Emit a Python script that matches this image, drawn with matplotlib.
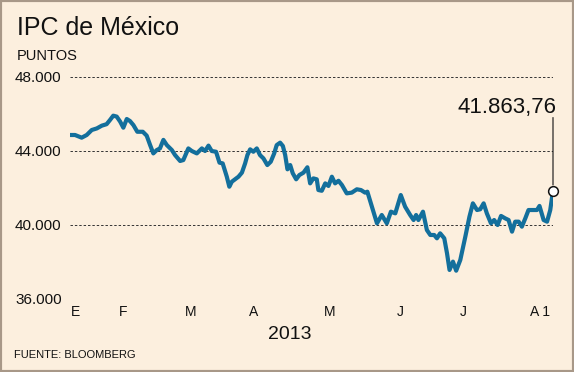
import matplotlib
matplotlib.use("Agg")
import matplotlib.pyplot as plt
from matplotlib.patches import Rectangle

plt.rcParams['font.family'] = ['Liberation Sans', 'DejaVu Sans']

# Day of year 2013 (Jan 1 = 1) and IPC index value
days = [2.0, 4.2, 7.1, 9.3, 11.5, 13.7, 15.9, 18.0, 19.5, 20.9, 22.4, 23.9, 25.3,
        26.8, 28.2, 29.7, 31.4, 33.8, 35.5, 37.0, 38.4, 39.9, 41.3, 42.8, 44.3,
        46.5, 47.9, 50.1, 51.5, 53.7, 55.2, 57.4, 59.6, 61.0, 62.5, 63.9, 65.8,
        67.3, 68.7, 70.5, 71.6, 72.7, 74.1, 75.6, 77.1, 78.5, 79.5, 80.7, 82.1,
        83.6, 85.0, 86.5, 88.2, 89.7, 91.2, 92.3, 93.8, 95.0, 96.0, 97.0, 98.2,
        99.3, 100.8, 102.2, 104.0, 105.7, 106.9, 108.3, 109.8, 110.5, 112.0,
        113.5, 114.9, 116.4, 117.8, 119.3, 120.8, 122.9, 125.1, 127.3, 129.1,
        130.9, 131.9, 133.9, 136.1, 138.2, 140.4, 142.2, 144.1, 146.5, 148.4,
        150.6, 152.1, 153.2, 154.2, 156.2, 157.9, 159.4, 161.1, 162.3, 163.7,
        165.5, 166.7, 167.8, 169.3, 170.7, 172.5, 174.7, 176.5, 178.0, 179.8,
        181.2, 182.7, 184.1, 185.9, 187.3, 188.8, 190.3, 192.1, 193.6, 195.1,
        196.5, 198.0, 199.4, 200.9, 202.3, 204.5, 206.0, 207.1, 208.9, 210.4,
        211.8, 213.0]
values = [44865, 44865, 44720, 44865, 45135, 45220, 45370, 45450, 45680, 45910,
          45860, 45590, 45260, 45730, 45620, 45400, 45040, 45040, 44830, 44320,
          43870, 44050, 44140, 44600, 44320, 44050, 43780, 43460, 43510, 44140,
          44000, 43870, 44140, 44000, 44290, 44000, 43960,
          43370, 43330, 42610, 42070, 42340, 42470, 42610, 42830, 43330, 43780,
          44090, 43960, 44140, 43780, 43600, 43240, 43420, 43870, 44320, 44450,
          44270, 43780, 43010, 43240, 42800, 42470, 42700, 42830, 43120, 42250,
          42520, 42470, 41890, 41850, 42250, 42110, 42610, 42250, 42390, 42160,
          41710, 41750, 41930, 41890, 41750, 41800, 40990, 40090,
          40540, 40090, 40720, 40630, 41620, 40990, 40540, 40270, 40540, 40270,
          40720, 39730, 39460, 39460, 39280, 39550, 39280, 38470, 37570, 38020,
          37530, 38110, 39370, 40450, 41170, 40810, 40850, 41170, 40630, 40090,
          40270, 40000, 40490, 40360, 40270, 39640, 40180, 40180, 39910, 40360,
          40810, 40810, 40810, 41030, 40270, 40180, 40810, 41863.76]

month_pos = [4.5, 25.2, 54.9, 82.0, 115.2, 146.2, 173.8, 207.4]
month_labels = ["E", "F", "M", "A", "M", "J", "J", "A 1"]
y_ticks = [36000, 40000, 44000, 48000]

bg = '#fcefde'
line_color = '#136f9c'

fig = plt.figure(figsize=(5.74, 3.72), dpi=100, facecolor=bg)
ax = fig.add_axes([70/574, 1-299/372, 483/574, 222/372])
ax.set_facecolor(bg)

ax.plot(days, values, color=line_color, lw=3.0, solid_joinstyle='round',
        solid_capstyle='round', zorder=3)

ax.set_xlim(days[0], days[-1])
ax.set_ylim(y_ticks[0], y_ticks[-1])
ax.set_yticks(y_ticks)
ax.set_yticklabels([f"{v:,}".replace(",", ".") for v in y_ticks], fontsize=11)
ax.set_xticks(month_pos)
ax.set_xticklabels(month_labels, fontsize=10)
ax.tick_params(axis='both', length=0, colors='#111111')
ax.tick_params(axis='y', pad=6)
ax.tick_params(axis='x', pad=4)
for s in ax.spines.values():
    s.set_visible(False)
ax.yaxis.grid(True, linestyle=(0, (2.5, 2)), color='#333333', lw=0.7)
ax.set_axisbelow(True)

# End marker and label
last_x, last_y = days[-1], values[-1]
ax.annotate('', xy=(last_x, last_y), xytext=(0, 73), textcoords='offset pixels',
            arrowprops=dict(arrowstyle='-', lw=0.8, color='#111111',
                            shrinkA=0, shrinkB=4))
ax.plot([last_x], [last_y], 'o', ms=7, mfc='white', mec='#111111', mew=1.1,
        zorder=5, clip_on=False)
label = f"{last_y:,.2f}".replace(",", "X").replace(".", ",").replace("X", ".")
ax.annotate(label, xy=(last_x, last_y), xytext=(4, 78), textcoords='offset pixels',
            ha='right', va='baseline', fontsize=16, color='#111111')

fig.text(17/574, 1-35/372, "IPC de México", fontsize=18, va='baseline',
         ha='left', color='#111111')
fig.text(17/574, 1-60/372, "PUNTOS", fontsize=10.5, va='baseline',
         ha='left', color='#111111')
fig.text(290/574, 1-339/372, "2013", fontsize=14, va='baseline',
         ha='center', color='#111111')
fig.text(14/574, 1-358/372, "FUENTE: BLOOMBERG", fontsize=8,
         family=['Liberation Sans Narrow', 'Liberation Sans', 'DejaVu Sans'],
         va='baseline', ha='left', color='#111111')

fig.patches.append(Rectangle((0, 0), 1, 1, transform=fig.transFigure,
                             fill=False, ec='#a89888', lw=3, zorder=10))

fig.savefig("out.png", dpi=100, facecolor=bg)
